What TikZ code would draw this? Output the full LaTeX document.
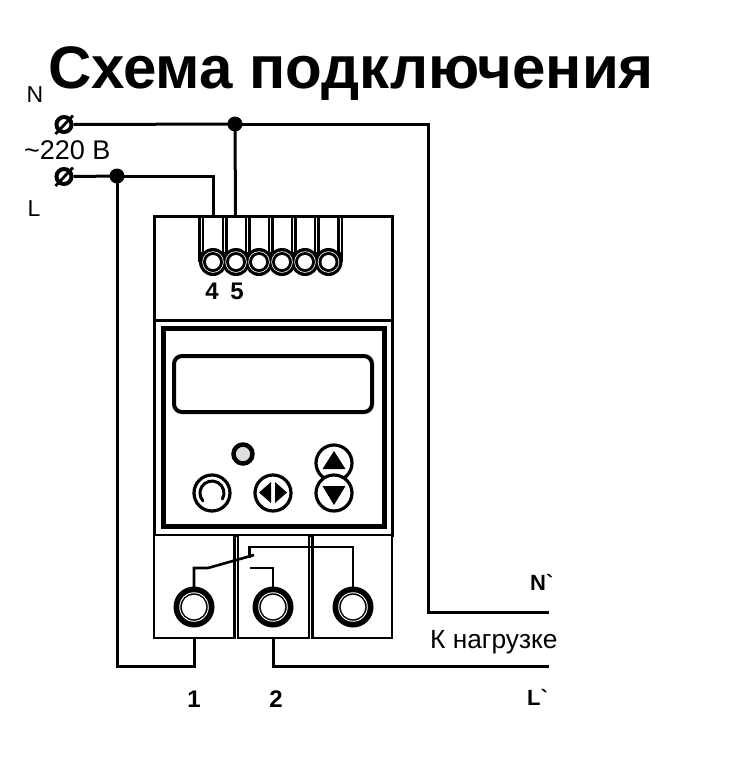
\documentclass[tikz,border=0pt]{standalone}
\usepackage{fontspec}
\setmainfont{Liberation Sans}[Ligatures=TeXOff]
\tikzset{
  wire/.style={line width=3pt,black,line cap=butt,line join=miter},
  body/.style={draw=black,line width=3pt,fill=white},
  junction/.style={circle,fill=black,inner sep=0pt,minimum size=15pt},
  screwhead/.style={circle,draw=black,line width=4pt,fill=white,inner sep=0pt,minimum size=15pt},
  ringA/.style={circle,fill=black,inner sep=0pt,minimum size=28pt},
  ringB/.style={circle,fill=white,inner sep=0pt,minimum size=21.5pt},
  ringC/.style={circle,fill=black,inner sep=0pt,minimum size=20pt},
  ringD/.style={circle,fill=white,inner sep=0pt,minimum size=14pt},
  bigA/.style={circle,fill=black,inner sep=0pt,minimum size=41pt},
  bigB/.style={circle,fill=white,inner sep=0pt,minimum size=29.5pt},
  bigC/.style={circle,fill=black,inner sep=0pt,minimum size=27.5pt},
  bigD/.style={circle,fill=white,inner sep=0pt,minimum size=24.5pt},
  btn/.style={circle,draw=black,line width=3.2pt,fill=white,inner sep=0pt,minimum size=36pt},
  plain/.style={inner sep=0pt,font=\fontsize{23}{23}\selectfont,black},
  strong/.style={inner sep=0pt,font=\fontsize{24}{24}\selectfont\bfseries,black},
}
\begin{document}
\begin{tikzpicture}[x=1pt,y=-1pt]
\useasboundingbox (0,0) rectangle (734,761);
\fill[white] (0,0) rectangle (734,761);

% title and labels
\node[inner sep=0pt,anchor=base west,font=\fontsize{60}{60}\selectfont\bfseries] (title) at (48,88) {Схема подключения};
\node[plain] (lN) at (35,95) {N};
\node[plain,anchor=base west,font=\fontsize{27}{27}\selectfont] (lV) at (24,159) {\char"7E 220 В};
\node[plain] (lL) at (34,209) {L};

% body
\draw[body] (154,216) rectangle (392,320);
\draw[body] (154,320) rectangle (392,535);
\draw[draw=black,line width=5pt] (163,328) rectangle (384,526);
\draw[draw=black,line width=4pt,rounded corners=8pt] (174,356) rectangle (372,412);

% upper terminal slots
\foreach \x in {201,224.5,247.5,270.5,293.5,316.5,340}{
  \draw[black,line width=6pt] (\x,215) -- (\x,262);
  \draw[white,line width=.8pt] (\x,218) -- (\x,252);
}
\foreach \i/\x in {1/213,2/236,3/259,4/282,5/305,6/328.5}{
  \node[ringA] (ta\i) at (\x,262) {};
}
\foreach \i/\x in {1/213,2/236,3/259,4/282,5/305,6/328.5}{
  \node[ringB] (tb\i) at (\x,262) {};
  \node[ringC] (tc\i) at (\x,262) {};
  \node[ringD] (t\i) at (\x,262) {};
}
\node[strong] (n4) at (212,291) {4};
\node[strong] (n5) at (237,291) {5};

% panel controls
\node[circle,draw=black,line width=4.5pt,fill=black!13,inner sep=0pt,minimum size=19pt] (led) at (243,454) {};
\node[btn] (bRound) at (212,493) {};
\draw[black,line width=3pt,line cap=round] (222.4,499) arc[start angle=30,end angle=-221,radius=12];
\node[btn] (bMid) at (273,493) {};
\fill[black] (259,492.5) -- (271,482) -- (271,503) -- cycle;
\fill[black] (287,492.5) -- (275,482) -- (275,503) -- cycle;
\node[btn] (bUp) at (334,463) {};
\fill[black] (334,451) -- (345.5,469) -- (322.5,469) -- cycle;
\node[btn] (bDown) at (334,493) {};
\fill[black] (334,505) -- (345.5,486) -- (322.5,486) -- cycle;

% lower modules
\draw[body,line width=2.6pt] (154,535) rectangle (234.5,638);
\draw[body,line width=2.6pt] (238,535) rectangle (309,638);
\draw[body,line width=2.6pt] (312.5,535) rectangle (392,638);
\foreach \i/\x in {1/194,2/273,3/353}{
  \node[bigA] (ca\i) at (\x,607) {};
  \node[bigB] (cb\i) at (\x,607) {};
  \node[bigC] (cc\i) at (\x,607) {};
  \node[bigD] (c\i) at (\x,607) {};
}
\coordinate (contactL) at (208,568);
\coordinate (contactE) at (254,555);
\coordinate (commonS) at (249.5,558);
\coordinate (midS) at (250,568);
\coordinate (cTop1) at (194,587);
\coordinate (cTop2) at (273,587);
\coordinate (cTop3) at (353,587);
\draw[black,line width=2.6pt] (cTop1) |- (contactL) -- (contactE);
\draw[black,line width=2.6pt] (commonS) |- (353,547) -- (cTop3);
\draw[black,line width=2.6pt] (midS) -| (cTop2);

% wiring
\node[screwhead] (sN) at (64,124.5) {};
\draw[black,line width=2.8pt] (55.5,134) -- (73,115.5);
\node[screwhead] (sL) at (64,176.5) {};
\draw[black,line width=2.8pt] (55.5,186) -- (73,167.5);
\node[junction] (jN) at (235,124) {};
\node[junction] (jL) at (117,176) {};
\coordinate (e4) at (213,216);
\coordinate (e5) at (235.5,216);
\coordinate (outN) at (549,612);
\coordinate (outL) at (549,666);
\coordinate (b1) at (194,638);
\coordinate (b2) at (273,638);
\draw[wire] (sN.east) -- (jN.center);
\draw[wire] (jN.center) -- (e5);
\draw[wire] (jN.center) -- (428,124) -- (428,612) -- (outN);
\draw[wire] (sL.east) -- (jL.center);
\draw[wire] (jL.center) -| (e4);
\draw[wire] (jL.center) -- (117,666) -- (194,666) -- (b1);
\draw[wire] (b2) -- (273,666) -- (outL);

% lower labels
\node[strong,font=\fontsize{22}{22}\selectfont\bfseries,anchor=base west] (lNp) at (530,590) {N\char"60};
\node[plain,anchor=base west,font=\fontsize{26.3}{26.3}\selectfont] (lLoad) at (430,648) {К нагрузке};
\node[strong,font=\fontsize{22}{22}\selectfont\bfseries,anchor=base west] (lLp) at (527,705) {L\char"60};
\node[strong] (n1) at (194,699) {1};
\node[strong] (n2) at (276,699) {2};
\end{tikzpicture}
\end{document}
